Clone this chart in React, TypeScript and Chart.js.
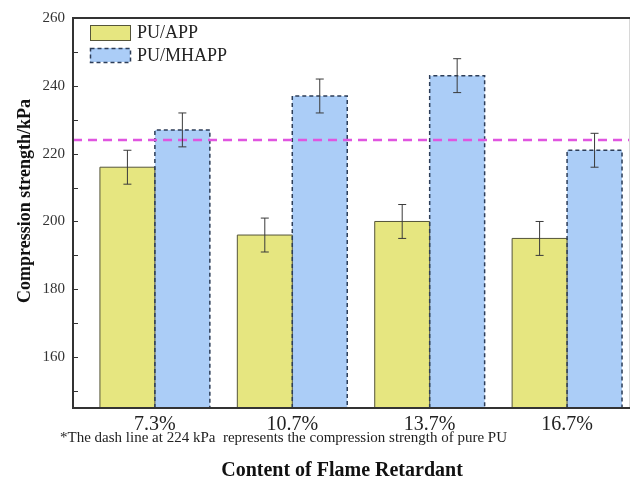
import React, { useEffect, useRef } from 'react';
import { Chart, registerables } from 'chart.js';

Chart.register(...registerables);

const categories = ['7.3%', '10.7%', '13.7%', '16.7%'];
const positions = [1, 2, 3, 4];
const seriesNames = ['PU/APP', 'PU/MHAPP'];
const puApp = [216, 196, 200, 195];
const puAppErr = [5, 5, 5, 5];
const puMhapp = [227, 237, 243, 221];
const puMhappErr = [5, 5, 5, 5];
const pureLine = 224;
const yTickValues = [150, 160, 170, 180, 190, 200, 210, 220, 230, 240, 250, 260];
const yLabelled = [160, 180, 200, 220, 240, 260];
const yTitle = 'Compression strength/kPa';
const xTitle = 'Content of Flame Retardant';
const footnote = '*The dash line at 224 kPa  represents the compression strength of pure PU';

const SERIF = '"Liberation Serif", "Times New Roman", serif';
const YELLOW = '#e6e680';
const BLUE = '#abcdf7';

const decorPlugin = {
  id: 'decor',
  afterDatasetsDraw(chart: any) {
    const ctx = chart.ctx;
    const area = chart.chartArea;
    const yScale = chart.scales.y;
    ctx.save();

    // bar borders
    chart.data.datasets.forEach((ds: any, di: number) => {
      const meta = chart.getDatasetMeta(di);
      meta.data.forEach((el: any) => {
        const { x, y, width } = el.getProps(['x', 'y', 'width'], true);
        const l = x - width / 2;
        const r = x + width / 2;
        ctx.beginPath();
        ctx.moveTo(l, area.bottom);
        ctx.lineTo(l, y);
        ctx.lineTo(r, y);
        ctx.lineTo(r, area.bottom);
        if (di === 0) {
          ctx.setLineDash([]);
          ctx.strokeStyle = '#55553a';
          ctx.lineWidth = 1;
        } else {
          ctx.setLineDash([4, 3]);
          ctx.strokeStyle = '#2c3d58';
          ctx.lineWidth = 1.5;
        }
        ctx.stroke();
      });
    });
    ctx.setLineDash([]);

    // pure PU dashed line
    const yl = yScale.getPixelForValue(pureLine);
    ctx.beginPath();
    ctx.setLineDash([9, 6]);
    ctx.strokeStyle = '#e055e0';
    ctx.lineWidth = 2.5;
    ctx.moveTo(area.left, yl);
    ctx.lineTo(area.right, yl);
    ctx.stroke();
    ctx.setLineDash([]);

    // error bars
    const errs = [puAppErr, puMhappErr];
    const vals = [puApp, puMhapp];
    chart.data.datasets.forEach((ds: any, di: number) => {
      const meta = chart.getDatasetMeta(di);
      meta.data.forEach((el: any, i: number) => {
        const { x } = el.getProps(['x'], true);
        const v = vals[di][i];
        const e = errs[di][i];
        const yt = yScale.getPixelForValue(v + e);
        const yb = yScale.getPixelForValue(v - e);
        ctx.beginPath();
        ctx.strokeStyle = '#3a3a3a';
        ctx.lineWidth = 1;
        ctx.moveTo(x, yt);
        ctx.lineTo(x, yb);
        ctx.moveTo(x - 4, yt);
        ctx.lineTo(x + 4, yt);
        ctx.moveTo(x - 4, yb);
        ctx.lineTo(x + 4, yb);
        ctx.stroke();
      });
    });

    // frame
    ctx.strokeStyle = '#d8d8d8';
    ctx.lineWidth = 1;
    ctx.beginPath();
    ctx.moveTo(area.right - 0.5, area.top);
    ctx.lineTo(area.right - 0.5, area.bottom);
    ctx.stroke();
    ctx.strokeStyle = '#333333';
    ctx.lineWidth = 2;
    ctx.beginPath();
    ctx.moveTo(area.right, area.top);
    ctx.lineTo(area.left, area.top);
    ctx.lineTo(area.left, area.bottom);
    ctx.lineTo(area.right, area.bottom);
    ctx.stroke();

    // inward y ticks
    ctx.lineWidth = 1.2;
    ctx.beginPath();
    yTickValues.forEach((v) => {
      const yy = Math.round(yScale.getPixelForValue(v)) + 0.5;
      ctx.moveTo(area.left, yy);
      ctx.lineTo(area.left + 5, yy);
    });
    ctx.stroke();

    // legend
    const legendRows = [
      { y: 25, h: 15, fill: YELLOW, dash: [] as number[], stroke: '#55553a', lw: 1 },
      { y: 48, h: 14, fill: BLUE, dash: [4, 3], stroke: '#2c3d58', lw: 1.5 },
    ];
    legendRows.forEach((row, i) => {
      ctx.fillStyle = row.fill;
      ctx.fillRect(90, row.y, 40, row.h);
      ctx.setLineDash(row.dash);
      ctx.strokeStyle = row.stroke;
      ctx.lineWidth = row.lw;
      ctx.strokeRect(90.5, row.y + 0.5, 40, row.h);
      ctx.setLineDash([]);
      ctx.fillStyle = '#222';
      ctx.font = `18px ${SERIF}`;
      ctx.textAlign = 'left';
      ctx.textBaseline = 'middle';
      ctx.fillText(seriesNames[i], 137, row.y + row.h / 2 + 1);
    });

    // footnote
    ctx.fillStyle = '#222';
    ctx.font = `15px ${SERIF}`;
    ctx.textAlign = 'left';
    ctx.textBaseline = 'alphabetic';
    ctx.fillText(footnote, 60, 442);

    // x title
    ctx.font = `bold 20px ${SERIF}`;
    ctx.textAlign = 'center';
    ctx.fillStyle = '#111';
    ctx.fillText(xTitle, 342, 476);

    // y title
    ctx.save();
    ctx.translate(30, 201);
    ctx.rotate(-Math.PI / 2);
    ctx.font = `bold 18px ${SERIF}`;
    ctx.textAlign = 'center';
    ctx.textBaseline = 'alphabetic';
    ctx.fillText(yTitle, 0, 0);
    ctx.restore();

    ctx.restore();
  },
};

export default function App() {
  const canvasRef = useRef<HTMLCanvasElement | null>(null);

  useEffect(() => {
    if (!canvasRef.current) return;
    const chart = new Chart(canvasRef.current, {
      type: 'bar',
      data: {
        datasets: [
          {
            label: seriesNames[0],
            data: positions.map((x, i) => ({ x, y: puApp[i] })),
            backgroundColor: YELLOW,
            borderWidth: 0,
            categoryPercentage: 0.8,
            barPercentage: 1,
          },
          {
            label: seriesNames[1],
            data: positions.map((x, i) => ({ x, y: puMhapp[i] })),
            backgroundColor: BLUE,
            borderWidth: 0,
            categoryPercentage: 0.8,
            barPercentage: 1,
          },
        ],
      },
      options: {
        animation: false,
        responsive: false,
        maintainAspectRatio: false,
        layout: { padding: { top: 18, right: 4, left: 0, bottom: 0 } },
        plugins: { legend: { display: false }, tooltip: { enabled: false } },
        scales: {
          x: {
            type: 'linear',
            offset: false,
            min: 0.404,
            max: 4.458,
            grid: { display: false, drawTicks: false, offset: false },
            border: { display: false },
            afterBuildTicks: (s: any) => {
              s.ticks = positions.map((v) => ({ value: v }));
            },
            afterFit: (s: any) => {
              s.height = 70;
            },
            ticks: {
              autoSkip: false,
              maxRotation: 0,
              padding: 5,
              color: '#222',
              font: { family: SERIF, size: 20 },
              callback: (v: any) => categories[Number(v) - 1] ?? '',
            },
          },
          y: {
            type: 'linear',
            min: 145,
            max: 260,
            grid: { display: false, drawTicks: false },
            border: { display: false },
            afterBuildTicks: (s: any) => {
              s.ticks = yTickValues.map((v) => ({ value: v }));
            },
            afterFit: (s: any) => {
              s.width = 73;
            },
            ticks: {
              padding: 8,
              color: '#333',
              font: { family: SERIF, size: 15 },
              callback: (v: any) => (yLabelled.includes(Number(v)) ? String(v) : ''),
            },
          },
        },
      },
      plugins: [decorPlugin],
    } as any);
    return () => chart.destroy();
  }, []);

  return (
    <div style={{ position: 'absolute', left: 0, top: 0, width: 634, height: 478, background: '#fff' }}>
      <canvas ref={canvasRef} width={634} height={478} style={{ display: 'block' }} />
    </div>
  );
}
